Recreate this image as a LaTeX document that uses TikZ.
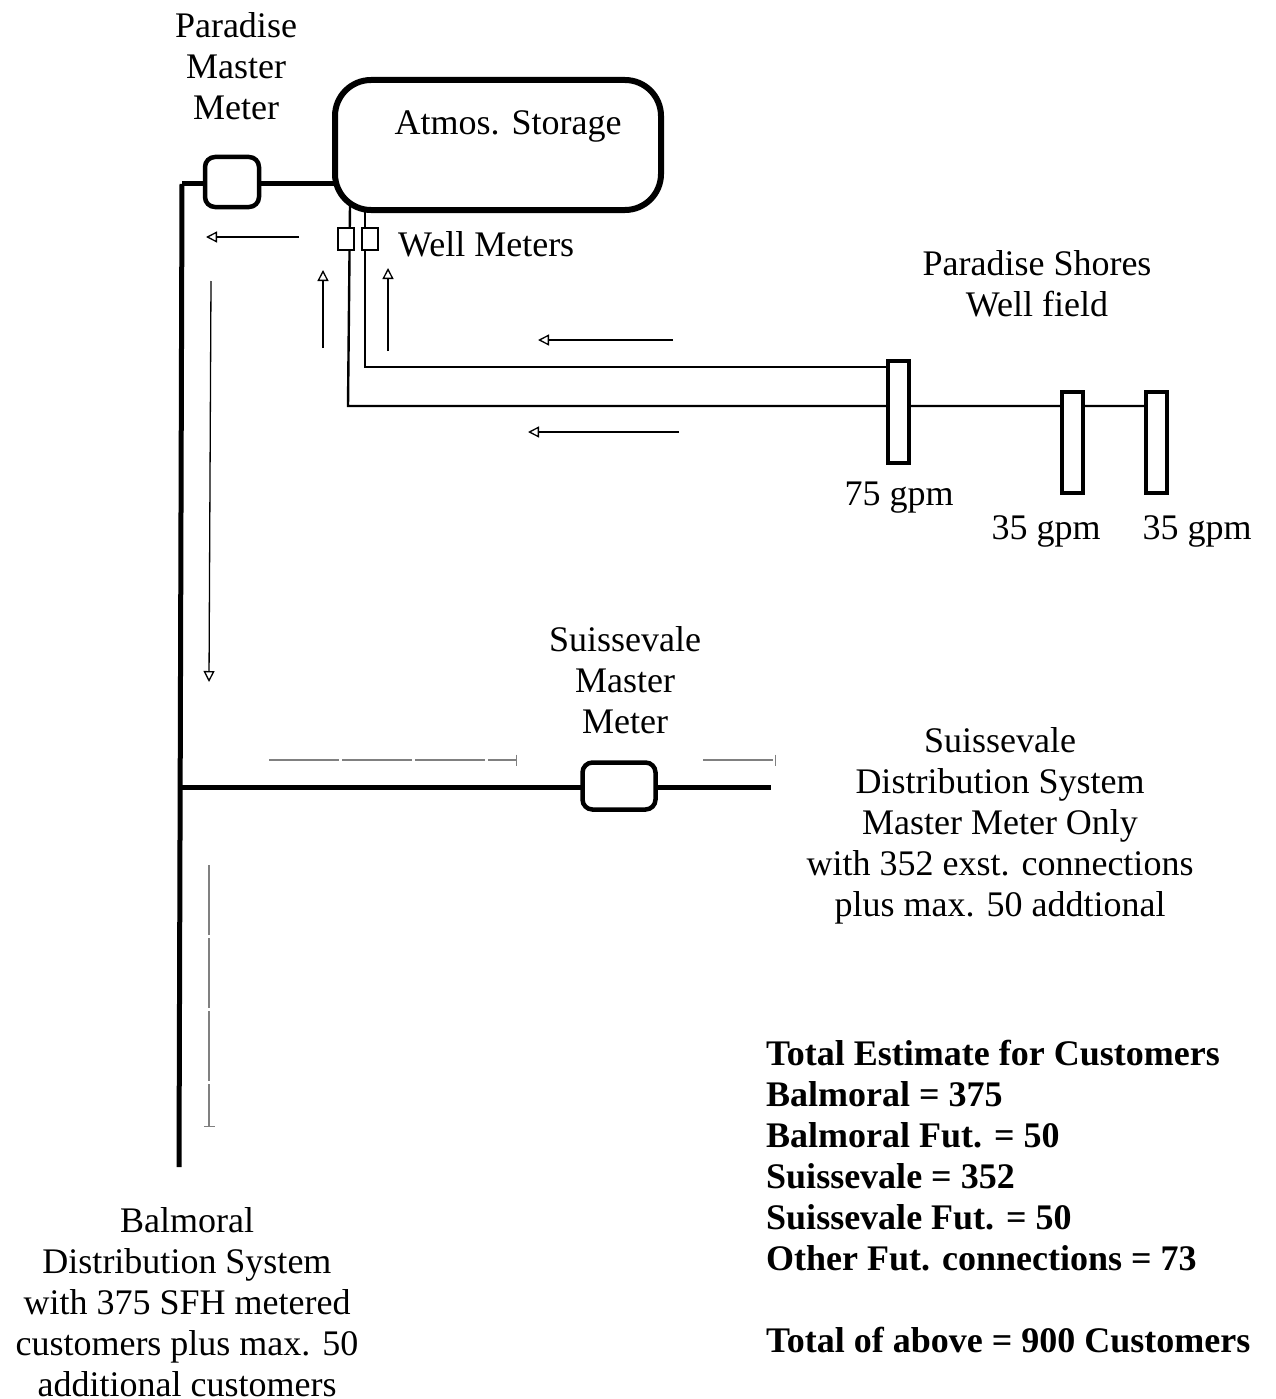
\documentclass[tikz,border=0pt]{standalone}
\usepackage{fontspec}
\setmainfont{Liberation Serif}
\usetikzlibrary{arrows.meta}
\tikzset{
  x=1pt,y=-1pt,
  lbl/.style={inner sep=0pt,align=center,font=\fontsize{36}{41}\selectfont},
  boldlbl/.style={inner sep=0pt,align=left,anchor=north west,font=\fontsize{36}{41}\selectfont\bfseries},
  main/.style={line width=5pt},
  thin pipe/.style={line width=2.4pt},
  tank/.style={draw,line width=6pt,rounded corners=36pt,fill=white,inner sep=0pt},
  meter/.style={draw,line width=4.5pt,rounded corners=10pt,fill=white,inner sep=0pt},
  wellmeter/.style={draw,line width=2pt,fill=white,inner sep=0pt,minimum width=16pt,minimum height=22pt},
  well/.style={draw,line width=4pt,fill=white,inner sep=0pt},
  flow/.style={line width=1.3pt,-{Triangle[open,length=11pt,width=11pt,line width=1.3pt]}},
  faint/.style={line width=1.1pt,gray,dash pattern=on 70pt off 3pt,-{Bar[width=11pt,line width=1pt]}},
}
\begin{document}
\begin{tikzpicture}
\useasboundingbox[fill=white] (0,0) rectangle (1275,1399);
% junction and free-end coordinates
\coordinate (corner) at (182,184);
\coordinate (tee) at (182,787);
\coordinate (bottom) at (179,1167);
\coordinate (suissend) at (771,787);
\coordinate (upperturn) at (365,367);
\coordinate (lowerturn) at (348,406);
\coordinate (w1l) at (888,367);
\coordinate (w1b) at (888,406);
\coordinate (w2c) at (1072,406);
\coordinate (w3c) at (1156,406);
% main pipes
\draw[main] (corner) -- (bottom);
\draw[main] (tee) -- (suissend);
\draw[main] (corner) -- (335,184);
% thin pipes
\draw[thin pipe] (350,205) -- (lowerturn) -- (w1b) -- (w3c);
\draw[thin pipe] (365,205) -- (upperturn) -- (w1l);
% tank
\node[tank,minimum width=326pt,minimum height=130pt] (storage) at (498,145) {};
\node[lbl] (storagetext) at (508,126) {Atmos. Storage};
% meters
\node[meter,minimum width=54pt,minimum height=50pt] (pmeter) at (232,182) {};
\node[meter,minimum width=73pt,minimum height=47pt] (smeter) at (619,786) {};
\node[wellmeter] (wm1) at (346,239) {};
\node[wellmeter] (wm2) at (370,239) {};
% wells
\node[well,minimum width=21pt,minimum height=102pt] (well1) at (898,412) {};
\node[well,minimum width=21pt,minimum height=101pt] (well2) at (1072,442) {};
\node[well,minimum width=21pt,minimum height=101pt] (well3) at (1156,442) {};
% flow arrows
\coordinate (a1s) at (299,237); \coordinate (a1e) at (206,237);
\coordinate (a2s) at (211,281); \coordinate (a2e) at (209,682);
\coordinate (a3s) at (323,348); \coordinate (a3e) at (323,270);
\coordinate (a4s) at (388,351); \coordinate (a4e) at (388,268);
\coordinate (a5s) at (673,340); \coordinate (a5e) at (538,340);
\coordinate (a6s) at (679,432); \coordinate (a6e) at (528,432);
\draw[flow] (a1s) -- (a1e);
\draw[flow] (a2s) -- (a2e);
\draw[flow] (a3s) -- (a3e);
\draw[flow] (a4s) -- (a4e);
\draw[flow] (a5s) -- (a5e);
\draw[flow] (a6s) -- (a6e);
% faint arrows
\coordinate (f1s) at (269,760); \coordinate (f1e) at (517,760);
\coordinate (f2s) at (703,760); \coordinate (f2e) at (776,760);
\coordinate (f3s) at (209,865); \coordinate (f3e) at (209,1127);
\draw[faint] (f1s) -- (f1e);
\draw[faint] (f2s) -- (f2e);
\draw[faint] (f3s) -- (f3e);
% labels
\node[lbl] (lpm) at (236,66) {Paradise\\Master\\Meter};
\node[lbl,anchor=west] (lwm) at (398,244) {Well Meters};
\node[lbl] (lps) at (1037,284) {Paradise Shores\\Well field};
\node[lbl] (l75) at (899,498) {75 gpm};
\node[lbl] (l35a) at (1046,531) {35 gpm};
\node[lbl] (l35b) at (1197,531) {35 gpm};
\node[lbl] (lsm) at (625,680) {Suissevale\\Master\\Meter};
\node[lbl] (lsd) at (1000,826) {Suissevale\\Distribution System\\Master Meter Only\\with 352 exst. connections\\plus max. 50 addtional};
\node[lbl] (lbd) at (187,1302) {Balmoral\\Distribution System\\with 375 SFH metered\\customers plus max. 50\\additional customers};
\node[boldlbl] (ltot) at (766,1040) {Total Estimate for Customers\\Balmoral = 375\\Balmoral Fut. = 50\\Suissevale = 352\\Suissevale Fut. = 50\\Other Fut. connections = 73\\[41pt]Total of above = 900 Customers};
\end{tikzpicture}
\end{document}
